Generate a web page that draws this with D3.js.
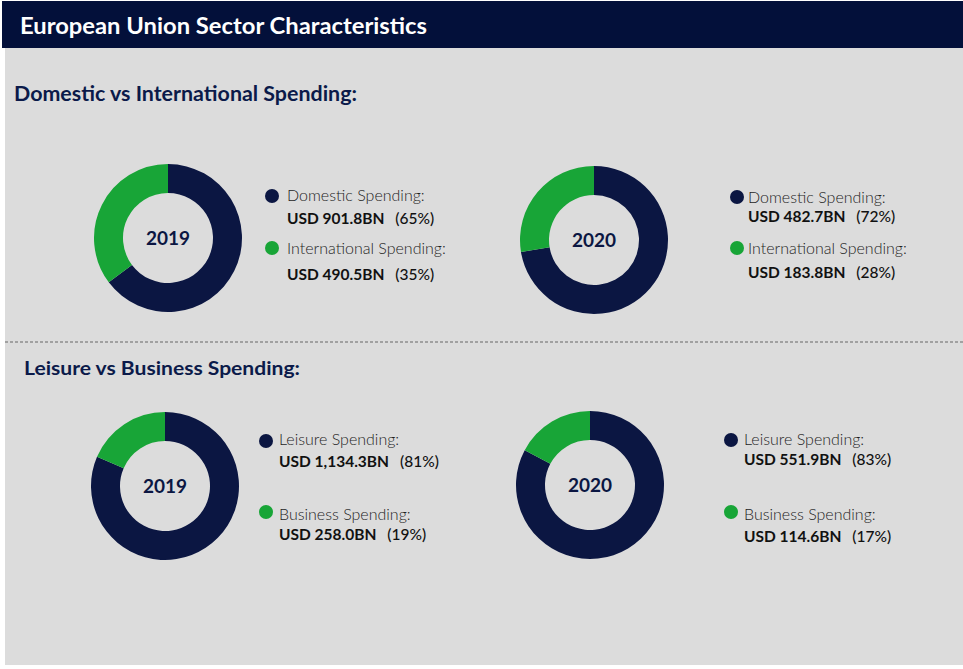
<!DOCTYPE html>
<html>
<head>
<meta charset="utf-8">
<script src="https://cdn.jsdelivr.net/npm/d3@7"></script>
<style>
  html, body { margin: 0; padding: 0; background: #ffffff; }
  svg { display: block; }
  text { font-family: Lato, "Open Sans", sans-serif; }
</style>
</head>
<body>
<svg id="chart" width="963" height="669"></svg>
<script>
// ---- data ----
const chartTitle = "European Union Sector Characteristics";
const sectionTitles = ["Domestic vs International Spending:", "Leisure vs Business Spending:"];
const years = ["2019", "2020"];
const domesticValues = [901.8, 482.7];
const internationalValues = [490.5, 183.8];
const leisureValues = [1134.3, 551.9];
const businessValues = [258.0, 114.6];
const domesticLabels = ["Domestic Spending:", "International Spending:"];
const leisureLabels = ["Leisure Spending:", "Business Spending:"];

// ---- style ----
const NAVY = "#0b1642";
const HEADER = "#03103a";
const GREEN = "#18a537";
const BG = "#dcdcdc";

const svg = d3.select("#chart");

// background panels
svg.append("rect").attr("x", 5).attr("y", 48).attr("width", 958).attr("height", 617).attr("fill", BG);
svg.append("rect").attr("x", 2).attr("y", 1).attr("width", 961).attr("height", 47).attr("fill", HEADER);
svg.append("text").attr("x", 20).attr("y", 34)
  .attr("fill", "#ffffff").attr("font-size", 23).attr("font-weight", 700)
  .attr("textLength", 407).attr("lengthAdjust", "spacingAndGlyphs")
  .text(chartTitle);

// section titles
svg.append("text").attr("x", 14).attr("y", 101)
  .attr("fill", "#0b1a4a").attr("font-size", 20).attr("font-weight", 700)
  .attr("textLength", 343).attr("lengthAdjust", "spacingAndGlyphs")
  .text(sectionTitles[0]);
svg.append("text").attr("x", 24).attr("y", 375)
  .attr("fill", "#0b1a4a").attr("font-size", 19).attr("font-weight", 700)
  .attr("textLength", 276).attr("lengthAdjust", "spacingAndGlyphs")
  .text(sectionTitles[1]);

// dashed separator
svg.append("line").attr("x1", 5).attr("x2", 963).attr("y1", 342).attr("y2", 342)
  .attr("stroke", "#666").attr("stroke-width", 1).attr("stroke-dasharray", "3,2");

const fmt = d3.format(",.1f");
const pie = d3.pie().sort(null).value(d => d);
const arc = d3.arc().innerRadius(45).outerRadius(74);
const colors = [NAVY, GREEN];

// panel layout
const panels = [
  { vals: [domesticValues[0], internationalValues[0]], labels: domesticLabels, year: years[0],
    cx: 168, cy: 238, lx: 287, dotx: 272,
    rows: [{dot: 196, lab: 201, val: 224}, {dot: 248, lab: 254, val: 280}] },
  { vals: [domesticValues[1], internationalValues[1]], labels: domesticLabels, year: years[1],
    cx: 594, cy: 240, lx: 748, dotx: 737,
    rows: [{dot: 197, lab: 203, val: 222}, {dot: 248, lab: 254, val: 278}] },
  { vals: [leisureValues[0], businessValues[0]], labels: leisureLabels, year: years[0],
    cx: 165, cy: 486, lx: 279, dotx: 266,
    rows: [{dot: 441, lab: 445, val: 467}, {dot: 512, lab: 520, val: 540}] },
  { vals: [leisureValues[1], businessValues[1]], labels: leisureLabels, year: years[1],
    cx: 590, cy: 485, lx: 744, dotx: 731,
    rows: [{dot: 440, lab: 445, val: 465}, {dot: 512, lab: 520, val: 542}] }
];

panels.forEach(p => {
  const g = svg.append("g").attr("transform", `translate(${p.cx},${p.cy})`);
  g.selectAll("path").data(pie(p.vals)).join("path")
    .attr("d", arc).attr("fill", (d, i) => colors[i]);
  g.append("text").attr("text-anchor", "middle").attr("y", 7)
    .attr("fill", NAVY).attr("font-size", 19).attr("font-weight", 700)
    .text(p.year);

  const total = d3.sum(p.vals);
  p.vals.forEach((v, i) => {
    const r = p.rows[i];
    svg.append("circle").attr("cx", p.dotx).attr("cy", r.dot).attr("r", 7).attr("fill", colors[i]);
    svg.append("text").attr("x", p.lx).attr("y", r.lab)
      .attr("fill", "#1e1e1e").attr("font-size", 16).attr("font-weight", 300)
      .text(p.labels[i]);
    const t = svg.append("text").attr("x", p.lx).attr("y", r.val)
      .attr("fill", "#111").attr("font-size", 15.5).attr("font-weight", 700);
    t.append("tspan").text(`USD ${fmt(v)}BN`);
    t.append("tspan").attr("dx", 11).attr("font-weight", 500).text(`(${Math.round(v / total * 100)}%)`);
  });
});
</script>
</body>
</html>
